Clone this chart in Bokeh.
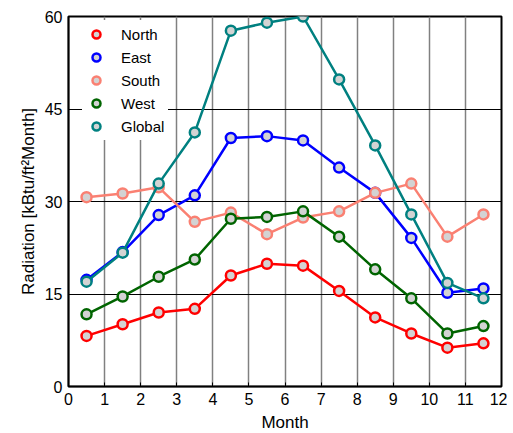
from bokeh.plotting import figure
from bokeh.models import Range1d, FixedTicker, Legend, LegendItem
from bokeh.embed import file_html
from bokeh.resources import INLINE

months = [0.5, 1.5, 2.5, 3.5, 4.5, 5.5, 6.5, 7.5, 8.5, 9.5, 10.5, 11.5]
north = [8.2, 10.1, 12.0, 12.6, 18.0, 19.9, 19.6, 15.5, 11.2, 8.6, 6.3, 7.0]
east = [17.3, 21.8, 27.8, 31.0, 40.3, 40.6, 39.9, 35.5, 31.4, 24.1, 15.2, 15.9]
south = [30.7, 31.3, 32.3, 26.7, 28.2, 24.7, 27.4, 28.4, 31.4, 32.9, 24.3, 27.9]
west = [11.7, 14.6, 17.8, 20.6, 27.2, 27.5, 28.4, 24.3, 19.0, 14.3, 8.6, 9.8]
global_ = [17.0, 21.7, 32.9, 41.2, 57.7, 59.0, 60.0, 49.8, 39.1, 27.9, 16.8, 14.3]

series = [("North", north, "#ff0000"), ("East", east, "#0000ff"),
          ("South", south, "#fa8072"), ("West", west, "#006400"),
          ("Global", global_, "#008080")]

x_ticks = list(range(0, 13))
y_ticks = [0, 15, 30, 45, 60]

FONT = "Liberation Sans"

p = figure(frame_width=433, frame_height=370, output_backend="svg", toolbar_location=None,
           x_range=Range1d(0, 12), y_range=Range1d(0, 60),
           min_border_left=68, min_border_right=6, min_border_top=16, min_border_bottom=38)

items = []
for name, vals, col in series:
    p.line(months, vals, line_color=col, line_width=2.5)
    r = p.scatter(months, vals, size=10, line_color=col, line_width=2.5, fill_color="#d3d3d3")
    items.append(LegendItem(label=name, renderers=[r]))

legend = Legend(items=items, location=(14, 246), border_line_alpha=0,
                background_fill_color="white", background_fill_alpha=1,
                label_text_font=FONT, label_text_font_size="15px", label_text_color="black",
                spacing=3, glyph_width=20, glyph_height=20, label_standoff=15,
                margin=0, padding=4)
p.add_layout(legend)

p.xaxis.ticker = FixedTicker(ticks=x_ticks)
p.yaxis.ticker = FixedTicker(ticks=y_ticks)
p.xaxis.axis_label = "Month"
p.yaxis.axis_label = "Radiation [kBtu/ft²Month]"
for ax in (p.xaxis, p.yaxis):
    ax.axis_label_text_font = FONT
    ax.axis_label_text_font_style = "normal"
    ax.axis_label_text_font_size = "17px"
    ax.major_label_text_font = FONT
    ax.major_label_text_font_size = "16px"
    ax.major_tick_in = 4
    ax.major_tick_out = 0
    ax.minor_tick_line_color = None
    ax.axis_line_color = "black"
    ax.axis_line_width = 1.5
    ax.major_label_text_color = "black"
    ax.axis_label_text_color = "black"
    ax.major_label_standoff = 6
p.xaxis.axis_label_standoff = 5
p.yaxis.axis_label_standoff = 4
p.yaxis.major_label_orientation = "horizontal"

p.xgrid.grid_line_color = "#808080"
p.xgrid.grid_line_width = 1.5
p.xgrid.grid_line_alpha = 1
p.ygrid.grid_line_color = "black"
p.ygrid.grid_line_width = 1
p.outline_line_color = "black"
p.outline_line_width = 2
p.outline_line_alpha = 1

open("out.html", "w").write(file_html(p, INLINE))
